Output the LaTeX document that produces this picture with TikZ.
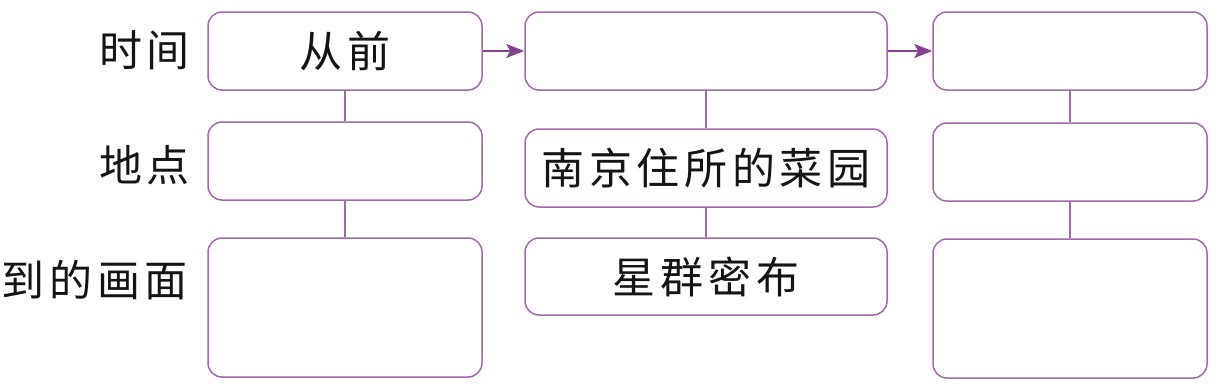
\documentclass[tikz,border=0pt]{standalone}
\usepackage{fontspec}
\newfontfamily\cjk[LetterSpace=11]{Noto Sans CJK SC}
\usetikzlibrary{arrows.meta}
\definecolor{boxline}{RGB}{160,105,170}
\definecolor{arrowcol}{RGB}{135,65,145}
\definecolor{txt}{RGB}{20,20,20}
\tikzset{
  cell/.style={draw=boxline, line width=1.5pt, rounded corners=14pt, inner sep=0pt, text=txt, font=\cjk\fontsize{43}{43}\selectfont},
  lbl/.style={anchor=east, inner sep=0pt, text=txt, font=\cjk\fontsize{43}{43}\selectfont},
  link/.style={draw=boxline, line width=1.3pt},
  flow/.style={draw=arrowcol, line width=1.5pt, -{Stealth[length=18pt,width=14pt,inset=4pt]}}
}
\begin{document}
\begin{tikzpicture}[x=1pt,y=-1pt]
\useasboundingbox (0,0) rectangle (1222,386);
% labels
\node[lbl] (l1) at (190,50) {时间};
\node[lbl] (l2) at (190,165) {地点};
\node[lbl] (l3) at (188,280) {到的画面};
% column 1
\node[cell, minimum width=274pt, minimum height=78pt] (a1) at (345,51) {从前};
\node[cell, minimum width=274pt, minimum height=78pt] (a2) at (345,161) {};
\node[cell, minimum width=274pt, minimum height=139pt] (a3) at (345,307.5) {};
% column 2
\node[cell, minimum width=362pt, minimum height=78pt] (b1) at (706,51) {};
\node[cell, minimum width=362pt, minimum height=78pt] (b2) at (706,168) {南京住所的菜园};
\node[cell, minimum width=362pt, minimum height=77pt] (b3) at (706,276.5) {星群密布};
% column 3
\node[cell, minimum width=274pt, minimum height=78pt] (c1) at (1070,51) {};
\node[cell, minimum width=274pt, minimum height=78pt] (c2) at (1070,162) {};
\node[cell, minimum width=274pt, minimum height=139pt] (c3) at (1070,308.5) {};
% vertical links
\draw[link] (a1.south) -- (a2.north);
\draw[link] (a2.south) -- (a3.north);
\draw[link] (b1.south) -- (b2.north);
\draw[link] (b2.south) -- (b3.north);
\draw[link] (c1.south) -- (c2.north);
\draw[link] (c2.south) -- (c3.north);
% arrows
\draw[flow] (a1.east) -- (b1.west);
\draw[flow] (b1.east) -- (c1.west);
\end{tikzpicture}
\end{document}
